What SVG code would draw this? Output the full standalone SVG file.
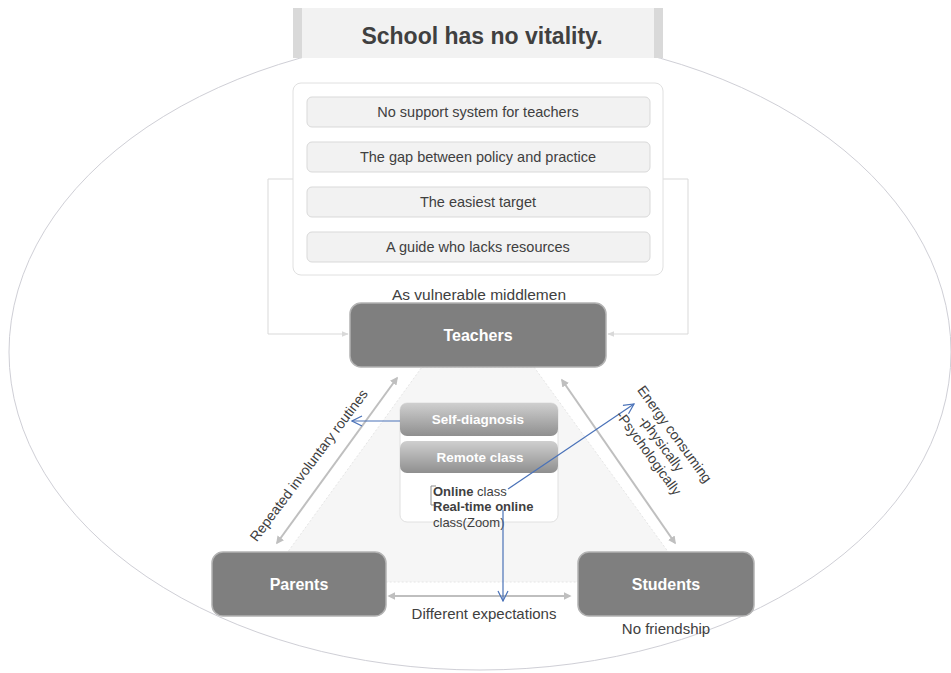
<svg xmlns="http://www.w3.org/2000/svg" width="951" height="673" viewBox="0 0 951 673">
  <defs>
    <style>
      .txt { font-family: "Liberation Sans", Arial, sans-serif; fill: #404040; }
      .item { fill: #f2f2f2; stroke: #d9d9d9; stroke-width: 1; }
      .item-t { font-size: 14.5px; text-anchor: middle; }
      .node { fill: #7f7f7f; stroke: #b3b3b3; stroke-width: 1.5; }
      .node-t { font-family: "Liberation Sans", Arial, sans-serif; font-weight: bold; font-size: 16px; fill: #ffffff; text-anchor: middle; }
      .sub-t { font-family: "Liberation Sans", Arial, sans-serif; font-weight: bold; font-size: 13.5px; fill: #ffffff; text-anchor: middle; }
      .gray-arrow { stroke: #bfbfbf; stroke-width: 2; fill: none; }
      .frame-line { stroke: #d9d9d9; stroke-width: 1; fill: none; }
      .blue-arrow { stroke: #4a72b8; stroke-width: 1.2; fill: none; }
      .lbl { font-size: 14px; }
    </style>
    <marker id="grayHead" viewBox="0 0 10 10" refX="8" refY="5" markerWidth="4" markerHeight="4" orient="auto-start-reverse">
      <path d="M0,0 L10,5 L0,10 z" fill="#bfbfbf"/>
    </marker>
    <marker id="frameHead" viewBox="0 0 10 10" refX="9" refY="5" markerWidth="7" markerHeight="7" orient="auto">
      <path d="M0,1 L10,5 L0,9 z" fill="#d9d9d9"/>
    </marker>
    <marker id="blueHead" viewBox="0 0 12 12" refX="11" refY="6" markerWidth="12" markerHeight="12" markerUnits="userSpaceOnUse" orient="auto">
      <path d="M1,1 L11,6 L1,11" fill="none" stroke="#4a72b8" stroke-width="1.2"/>
    </marker>
    <linearGradient id="subGrad" x1="0" y1="0" x2="0" y2="1">
      <stop offset="0" stop-color="#cfcfcf"/>
      <stop offset="1" stop-color="#8f8f8f"/>
    </linearGradient>
  </defs>

  <!-- outer school boundary -->
  <ellipse cx="480" cy="352" rx="471" ry="318" fill="#ffffff" stroke="#cfcfd6" stroke-width="1"/>

  <!-- title banner -->
  <g id="title">
    <rect x="293" y="8" width="370" height="50" fill="#f2f2f2"/>
    <rect x="293" y="8" width="9" height="50" fill="#d9d9d9"/>
    <rect x="654" y="8" width="9" height="50" fill="#d9d9d9"/>
    <text x="482" y="44" class="txt" font-size="23" font-weight="bold" text-anchor="middle">School has no vitality.</text>
  </g>

  <!-- light triangle field between the three actors -->
  <polygon points="422,367 534,367 690,582 266,582" fill="#f6f6f6" stroke="#e6e6e6" stroke-width="1" stroke-dasharray="2,2"/>

  <!-- connectors -->
  <g id="connectors">
    <polyline class="frame-line" points="293,179 268,179 268,334 348,334" marker-end="url(#frameHead)"/>
    <polyline class="frame-line" points="663,179 688,179 688,334 608,334" marker-end="url(#frameHead)"/>
    <line class="gray-arrow" x1="397" y1="378" x2="277" y2="543" marker-start="url(#grayHead)" marker-end="url(#grayHead)"/>
    <line class="gray-arrow" x1="562" y1="380" x2="675" y2="543" marker-start="url(#grayHead)" marker-end="url(#grayHead)"/>
    <line class="gray-arrow" x1="389" y1="596" x2="570" y2="596" marker-start="url(#grayHead)" marker-end="url(#grayHead)"/>
  </g>

  <!-- problems faced by teachers -->
  <g id="teacher-issues">
    <rect x="293" y="83" width="370" height="192" rx="8" fill="#ffffff" stroke="#e0e0e0" stroke-width="1"/>
    <rect class="item" x="307" y="97" width="343" height="30" rx="5"/>
    <text class="txt item-t" x="478" y="117">No support system for teachers</text>
    <rect class="item" x="307" y="142" width="343" height="30" rx="5"/>
    <text class="txt item-t" x="478" y="162">The gap between policy and practice</text>
    <rect class="item" x="307" y="187" width="343" height="30" rx="5"/>
    <text class="txt item-t" x="478" y="207">The easiest target</text>
    <rect class="item" x="307" y="232" width="343" height="30" rx="5"/>
    <text class="txt item-t" x="478" y="252">A guide who lacks resources</text>
  </g>

  <text class="txt" x="479" y="300" text-anchor="middle" font-size="15.5">As vulnerable middlemen</text>

  <!-- actors -->
  <g id="teachers">
    <rect class="node" x="350" y="303" width="256" height="64" rx="11"/>
    <text class="node-t" x="478" y="341">Teachers</text>
  </g>
  <g id="parents">
    <rect class="node" x="212" y="552" width="174" height="64" rx="11"/>
    <text class="node-t" x="299" y="590">Parents</text>
  </g>
  <g id="students">
    <rect class="node" x="578" y="552" width="176" height="64" rx="11"/>
    <text class="node-t" x="666" y="590">Students</text>
  </g>

  <!-- central response box -->
  <g id="response">
    <rect x="400" y="403" width="158" height="119" rx="7" fill="#ffffff" stroke="#e0e0e0" stroke-width="1"/>
    <rect x="400" y="403" width="158" height="33" rx="7" fill="url(#subGrad)"/>
    <text class="sub-t" x="478" y="424">Self-diagnosis</text>
    <rect x="400" y="441" width="158" height="32" rx="7" fill="url(#subGrad)"/>
    <text class="sub-t" x="480" y="462">Remote class</text>
    <path d="M436,486 L431,486 L431,505 L436,505" fill="none" stroke="#8c8c8c" stroke-width="1"/>
    <text class="txt" x="433" y="496" font-size="13"><tspan font-weight="bold">Online</tspan> class</text>
    <text class="txt" x="433" y="511" font-size="13" font-weight="bold">Real-time online</text>
    <text class="txt" x="433" y="527" font-size="13">class(Zoom)</text>
  </g>

  <!-- influence arrows -->
  <g id="influences">
    <line class="blue-arrow" x1="400" y1="421" x2="352" y2="421" marker-end="url(#blueHead)"/>
    <line class="blue-arrow" x1="508" y1="489" x2="634" y2="404" marker-end="url(#blueHead)"/>
    <line class="blue-arrow" x1="503" y1="510" x2="503" y2="601" marker-end="url(#blueHead)"/>
  </g>

  <!-- edge labels -->
  <text class="txt lbl" transform="translate(315,470) rotate(-53)" x="0" y="-3" text-anchor="middle">Repeated involuntary routines</text>
  <g class="txt lbl" transform="translate(661,444) rotate(54)" text-anchor="middle">
    <text x="0" y="-12">Energy consuming</text>
    <text x="0" y="4">-physically</text>
    <text x="0" y="20">-Psychologically</text>
  </g>
  <text class="txt" x="484" y="619" text-anchor="middle" font-size="15">Different expectations</text>
  <text class="txt" x="666" y="634" text-anchor="middle" font-size="15">No friendship</text>
</svg>
